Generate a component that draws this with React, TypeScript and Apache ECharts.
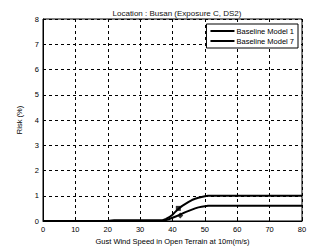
import React, { useEffect, useRef } from "react";
import * as echarts from "echarts";

const windSpeed = [0, 20, 22, 30, 36, 37, 38, 39, 40, 41, 42, 43, 44, 45, 46, 47, 48, 49, 50, 51, 80];
const model1 = [0, 0, 0.02, 0.02, 0.02, 0.03, 0.08, 0.15, 0.25, 0.38, 0.5, 0.6, 0.68, 0.76, 0.83, 0.88, 0.92, 0.95, 0.98, 1.0, 1.0];
const model7 = [0, 0, 0.02, 0.02, 0.02, 0.02, 0.04, 0.08, 0.13, 0.18, 0.23, 0.29, 0.35, 0.4, 0.45, 0.5, 0.54, 0.56, 0.58, 0.6, 0.6];
const marker1: [number, number][] = [[41.8, 0.5]];
const marker7: [number, number][] = [[42.4, 0.22]];
const xTicks = { min: 0, max: 80, interval: 10 };
const yTicks = { min: 0, max: 8, interval: 1 };

const FONT = "Liberation Sans, Arial, sans-serif";

export default function App() {
  const ref = useRef<HTMLDivElement>(null);
  useEffect(() => {
    if (!ref.current) return;
    const chart = echarts.init(ref.current, undefined, { renderer: "svg" });
    const dashed = { show: true, lineStyle: { color: "#000", type: [3, 3] as any, width: 1 } };
    chart.setOption({
      animation: false,
      backgroundColor: "#fff",
      title: {
        text: "Location : Busan (Exposure C, DS2)",
        left: 172,
        textAlign: "center",
        top: 4,
        textStyle: { fontSize: 8, fontWeight: "normal", color: "#111", fontFamily: FONT },
      },
      grid: {
        left: 43,
        right: 34,
        top: 19,
        bottom: 31,
        show: true,
        borderColor: "#000",
        borderWidth: 1,
        backgroundColor: "#fff",
      },
      legend: {
        data: ["Baseline Model 1", "Baseline Model 7"],
        orient: "vertical",
        right: 38,
        top: 24,
        padding: [3, 4, 3, 4],
        itemGap: 2,
        icon: "rect",
        itemWidth: 24,
        itemHeight: 2,
        borderColor: "#000",
        borderWidth: 1,
        borderRadius: 0,
        backgroundColor: "#fff",
        textStyle: { fontSize: 7.5, color: "#000", fontFamily: FONT, padding: [0, 0, 0, -3] },
      },
      xAxis: {
        type: "value",
        ...xTicks,
        name: "Gust Wind Speed in Open Terrain at 10m(m/s)",
        nameLocation: "middle",
        nameGap: 15,
        nameTextStyle: { fontSize: 7.5, color: "#000", fontFamily: FONT },
        axisLine: { show: true, onZero: false, lineStyle: { color: "#000" } },
        axisTick: { show: true, inside: true, length: 2, lineStyle: { color: "#000" } },
        axisLabel: { fontSize: 7.5, color: "#000", fontFamily: FONT, margin: 4 },
        splitLine: dashed,
      },
      yAxis: {
        type: "value",
        ...yTicks,
        name: "Risk (%)",
        nameLocation: "middle",
        nameGap: 13,
        nameTextStyle: { fontSize: 7.5, color: "#000", fontFamily: FONT },
        axisLine: { show: true, onZero: false, lineStyle: { color: "#000" } },
        axisTick: { show: true, inside: true, length: 2, lineStyle: { color: "#000" } },
        axisLabel: { fontSize: 7.5, color: "#000", fontFamily: FONT, margin: 4 },
        splitLine: dashed,
      },
      series: [
        {
          name: "Baseline Model 1",
          type: "line",
          data: windSpeed.map((x, i) => [x, model1[i]]),
          symbol: "none",
          lineStyle: { color: "#000", width: 2 },
          itemStyle: { color: "#000" },
        },
        {
          name: "Baseline Model 7",
          type: "line",
          data: windSpeed.map((x, i) => [x, model7[i]]),
          symbol: "none",
          lineStyle: { color: "#000", width: 2 },
          itemStyle: { color: "#000" },
        },
        {
          name: "m1",
          type: "scatter",
          data: marker1,
          symbol: "rect",
          symbolSize: 5,
          itemStyle: { color: "#000" },
        },
        {
          name: "m7",
          type: "scatter",
          data: marker7,
          symbol: "diamond",
          symbolSize: 6,
          itemStyle: { color: "#000" },
        },
      ],
    });
    return () => chart.dispose();
  }, []);
  return <div ref={ref} style={{ width: 336, height: 252, position: "absolute", left: 0, top: 0 }} />;
}
